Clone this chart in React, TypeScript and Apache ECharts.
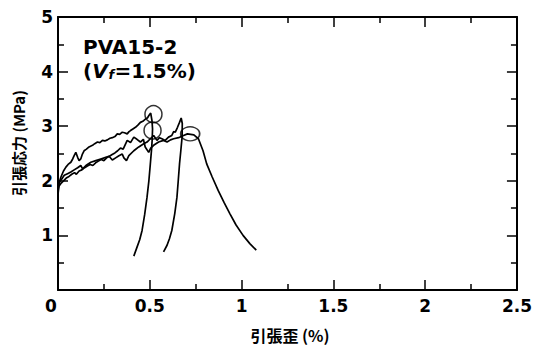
import React, { useEffect, useRef } from "react";
import * as echarts from "echarts";

// Axis ranges / ticks
const xRange = [0, 2.5];
const xInterval = 0.5;
const yRange = [0, 5];
const yInterval = 1;

// Specimen curves: [strain %, stress MPa]
const specimenA: [number, number][] = [
  [0, 1.8], [0.005, 1.95], [0.016, 2.07], [0.03, 2.18], [0.043, 2.25], [0.055, 2.3],
  [0.07, 2.34], [0.08, 2.4], [0.088, 2.46], [0.097, 2.52], [0.107, 2.43], [0.115, 2.37],
  [0.124, 2.4], [0.133, 2.49], [0.142, 2.55], [0.155, 2.58], [0.169, 2.62], [0.188, 2.65],
  [0.2, 2.68], [0.215, 2.71], [0.228, 2.7], [0.242, 2.74], [0.255, 2.73], [0.269, 2.75],
  [0.283, 2.78], [0.296, 2.79], [0.31, 2.81], [0.323, 2.86], [0.336, 2.85], [0.35, 2.89],
  [0.362, 2.88], [0.377, 2.86], [0.387, 2.9], [0.395, 2.92], [0.408, 2.95], [0.422, 2.98],
  [0.435, 3.02], [0.449, 3.07], [0.462, 3.09], [0.476, 3.13], [0.487, 3.15], [0.496, 3.2],
  [0.505, 3.24], [0.512, 3.1], [0.515, 2.95], [0.513, 2.75], [0.51, 2.59], [0.503, 2.31],
  [0.495, 2.0], [0.485, 1.7], [0.472, 1.38], [0.458, 1.09], [0.445, 0.92], [0.431, 0.79],
  [0.413, 0.62],
];

const specimenB: [number, number][] = [
  [0, 1.85], [0.006, 1.96], [0.016, 2.01], [0.034, 2.1], [0.052, 2.13], [0.07, 2.16],
  [0.088, 2.2], [0.107, 2.24], [0.124, 2.28], [0.134, 2.22], [0.152, 2.28], [0.179, 2.34],
  [0.206, 2.37], [0.233, 2.4], [0.26, 2.43], [0.278, 2.45], [0.296, 2.38], [0.314, 2.42],
  [0.332, 2.46], [0.35, 2.49], [0.359, 2.42], [0.373, 2.37], [0.386, 2.46], [0.413, 2.55],
  [0.44, 2.62], [0.467, 2.68], [0.485, 2.71], [0.503, 2.77], [0.521, 2.83], [0.539, 2.74],
  [0.553, 2.79], [0.566, 2.77], [0.584, 2.74], [0.602, 2.8], [0.62, 2.83], [0.63, 2.9],
  [0.639, 2.89], [0.651, 2.98], [0.662, 3.07], [0.671, 3.15], [0.677, 3.05], [0.676, 2.8],
  [0.669, 2.55], [0.662, 2.31], [0.655, 2.0], [0.648, 1.7], [0.636, 1.4], [0.62, 1.09],
  [0.607, 0.94], [0.594, 0.82], [0.575, 0.7],
];

const specimenC: [number, number][] = [
  [0, 1.75], [0.005, 1.9], [0.016, 1.95], [0.03, 2.0], [0.045, 2.05], [0.06, 2.08],
  [0.075, 2.12], [0.09, 2.15], [0.1, 2.12], [0.115, 2.18], [0.13, 2.2], [0.145, 2.24],
  [0.16, 2.27], [0.175, 2.3], [0.19, 2.28], [0.205, 2.33], [0.22, 2.36], [0.235, 2.39],
  [0.25, 2.37], [0.265, 2.42], [0.28, 2.45], [0.295, 2.48], [0.31, 2.51], [0.325, 2.55],
  [0.34, 2.6], [0.355, 2.58], [0.377, 2.74], [0.395, 2.7], [0.413, 2.8], [0.43, 2.76],
  [0.449, 2.71], [0.465, 2.76], [0.475, 2.62], [0.494, 2.52], [0.505, 2.6], [0.521, 2.65],
  [0.548, 2.71], [0.575, 2.74], [0.594, 2.71], [0.613, 2.75], [0.63, 2.77], [0.657, 2.79],
  [0.684, 2.83], [0.705, 2.86], [0.74, 2.84], [0.765, 2.77], [0.79, 2.55], [0.81, 2.31],
  [0.84, 2.07], [0.873, 1.82], [0.905, 1.6], [0.936, 1.4], [0.97, 1.19], [1.008, 1.0],
  [1.045, 0.85], [1.08, 0.73],
];

// Circled peak points
const peakMarks: [number, number][] = [[0.52, 3.22], [0.515, 2.92], [0.72, 2.86]];

const FONT = "DejaVu Sans";
const CJK = "Noto Sans CJK JP";

export default function App() {
  const ref = useRef<HTMLDivElement>(null);

  useEffect(() => {
    if (!ref.current) return;
    const chart = echarts.init(ref.current, null, { renderer: "svg" });

    const lineStyle = { color: "#000", width: 2 };
    const tickStyle = { color: "#000", width: 1.5 };
    const labelStyle = {
      color: "#000",
      fontSize: 17,
      fontFamily: FONT,
      fontWeight: "bold" as const,
    };

    const baseX = {
      type: "value" as const,
      min: xRange[0],
      max: xRange[1],
      interval: xInterval,
      axisLine: { show: true, onZero: false, lineStyle },
      axisTick: { show: true, inside: true, length: 10, lineStyle: tickStyle },
      minorTick: { show: true, splitNumber: 2, length: 6, lineStyle: tickStyle },
      splitLine: { show: false },
      minorSplitLine: { show: false },
    };
    const baseY = {
      type: "value" as const,
      min: yRange[0],
      max: yRange[1],
      interval: yInterval,
      axisLine: { show: true, onZero: false, lineStyle },
      axisTick: { show: true, inside: true, length: 10, lineStyle: tickStyle },
      minorTick: { show: true, splitNumber: 2, length: 6, lineStyle: tickStyle },
      splitLine: { show: false },
      minorSplitLine: { show: false },
    };

    const curve = (data: [number, number][]) => ({
      type: "line" as const,
      data,
      xAxisIndex: 0,
      yAxisIndex: 0,
      showSymbol: false,
      symbol: "none",
      lineStyle: { color: "#000", width: 1.7 },
      silent: true,
    });

    const annFont = { fill: "#000", fontFamily: FONT, fontWeight: "bold" as const, verticalAlign: "top" as const };

    chart.setOption({
      animation: false,
      backgroundColor: "#fff",
      grid: { left: 58, right: 16, top: 17, bottom: 57 },
      xAxis: [
        {
          ...baseX,
          position: "bottom",
          axisLabel: {
            ...labelStyle,
            margin: 7,
            formatter: (v: number) => (v === 0 ? "{z|0}" : String(v)),
            rich: { z: { ...labelStyle, padding: [0, 14, 0, 0] } },
          },
        },
        { ...baseX, position: "top", axisLabel: { show: false } },
      ],
      yAxis: [
        {
          ...baseY,
          position: "left",
          axisLabel: {
            ...labelStyle,
            margin: 5,
            formatter: (v: number) => (v === 0 ? "" : String(v)),
          },
        },
        { ...baseY, position: "right", axisLabel: { show: false } },
      ],
      series: [
        curve(specimenA),
        curve(specimenB),
        curve(specimenC),
        {
          type: "scatter",
          data: peakMarks,
          xAxisIndex: 0,
          yAxisIndex: 0,
          symbol: "circle",
          symbolSize: (_v: any, p: any) => (p.dataIndex === 2 ? [19, 14] : 17),
          itemStyle: { color: "transparent", borderColor: "#000", borderWidth: 1.5 },
          silent: true,
        },
      ],
      graphic: [
        {
          type: "text",
          x: 83,
          y: 37,
          style: { ...annFont, text: "PVA15-2", fontSize: 20 },
        },
        {
          type: "text",
          x: 83,
          y: 61,
          style: {
            ...annFont,
            text: "{p|(}{v|V}",
            fontSize: 20,
            rich: {
              p: { fill: "#000", fontSize: 20, fontFamily: FONT, fontWeight: "bold" },
              v: { fill: "#000", fontSize: 20, fontFamily: FONT, fontWeight: "bold", fontStyle: "italic" },
            },
          },
        },
        {
          type: "text",
          x: 108.5,
          y: 68,
          style: { ...annFont, text: "f", fontSize: 13, fontStyle: "italic" },
        },
        {
          type: "text",
          x: 114.5,
          y: 61,
          style: { ...annFont, text: "=1.5%)", fontSize: 20 },
        },
        {
          type: "text",
          x: 18,
          y: 143,
          rotation: Math.PI / 2,
          style: {
            text: "引張応力 (MPa)",
            fill: "#000",
            fontSize: 15,
            fontFamily: CJK,
            fontWeight: "bold",
            align: "center",
            verticalAlign: "middle",
          },
        },
        {
          type: "text",
          x: 290,
          y: 335,
          style: {
            text: "引張歪 (%)",
            fill: "#000",
            fontSize: 16,
            fontFamily: CJK,
            fontWeight: "bold",
            align: "center",
            verticalAlign: "middle",
          },
        },
      ],
    });

    return () => chart.dispose();
  }, []);

  return (
    <div
      ref={ref}
      style={{ position: "fixed", left: 0, top: 0, width: 535, height: 347, background: "#fff" }}
    />
  );
}
